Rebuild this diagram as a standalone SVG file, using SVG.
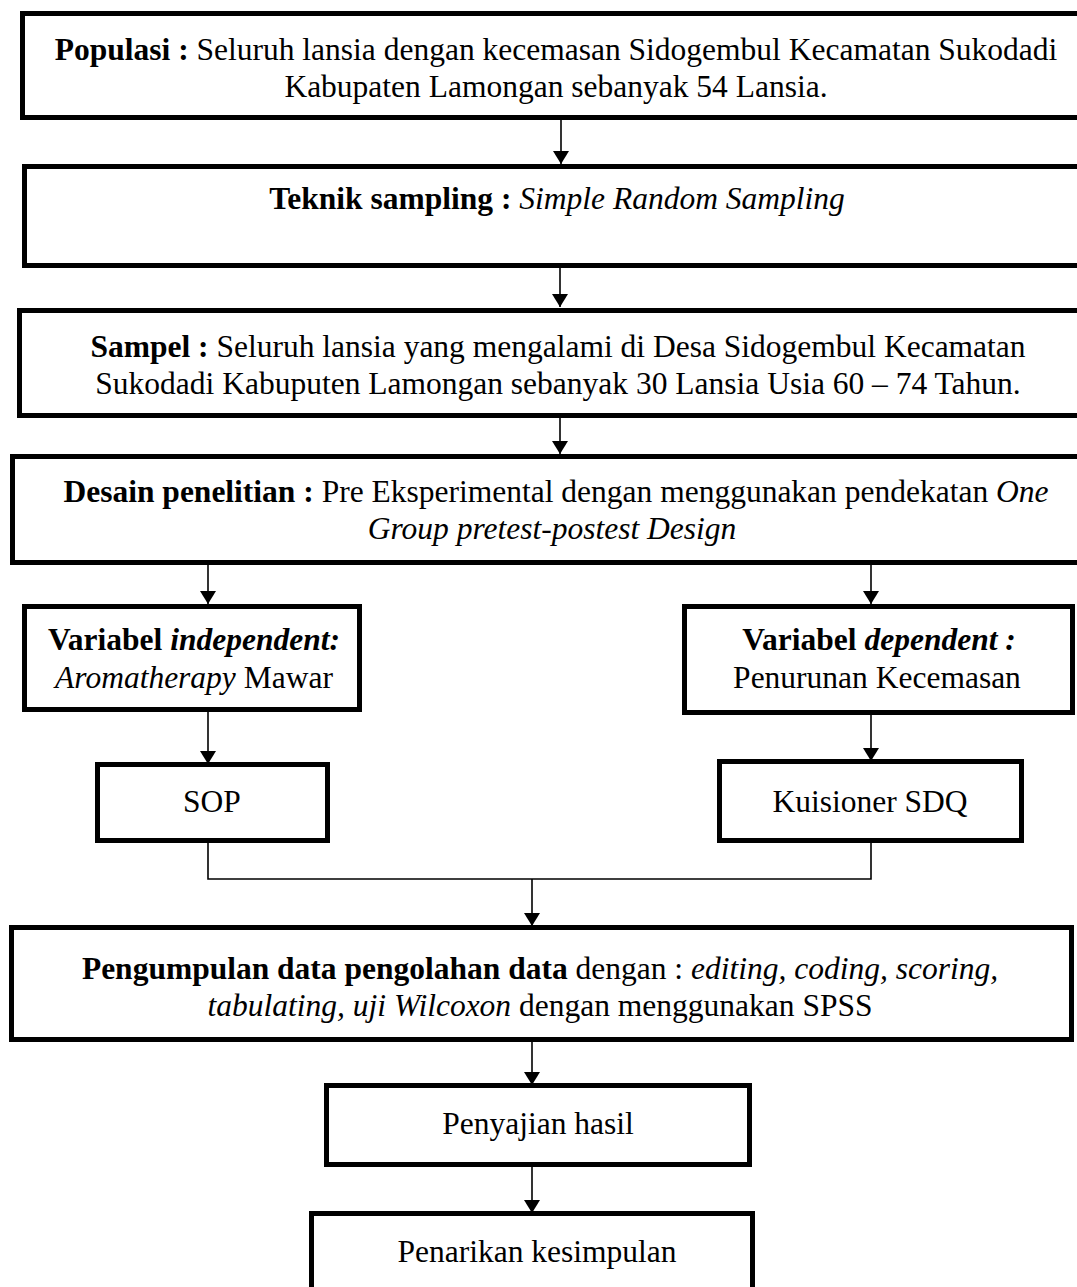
<svg xmlns="http://www.w3.org/2000/svg" width="1077" height="1287" viewBox="0 0 1077 1287">
<style>
.box{fill:#fff;stroke:#000;stroke-width:5}
.t{font-family:"Liberation Serif","Times New Roman",serif;font-size:31.5px;fill:#000;text-anchor:middle}
.b{font-weight:bold}
.i{font-style:italic}
.c{fill:none;stroke:#000;stroke-width:1.6}
.a{marker-end:url(#ah)}
</style>
<defs>
<marker id="ah" markerUnits="userSpaceOnUse" markerWidth="13" markerHeight="16" refX="13" refY="8" orient="auto" viewBox="0 0 13 16">
<path d="M0,0 L13,8 L0,16 Z" fill="#000"/>
</marker>
</defs>
<g id="connectors">
<line class="c a" x1="561" y1="120" x2="561" y2="164"/>
<line class="c a" x1="560" y1="268" x2="560" y2="307"/>
<line class="c a" x1="560" y1="418" x2="560" y2="454"/>
<line class="c a" x1="208" y1="565" x2="208" y2="604"/>
<line class="c a" x1="871" y1="565" x2="871" y2="604"/>
<line class="c a" x1="208" y1="712" x2="208" y2="764"/>
<line class="c a" x1="871" y1="715" x2="871" y2="761"/>
<polyline class="c" points="208,842 208,879 871,879 871,842"/>
<line class="c a" x1="532" y1="879" x2="532" y2="926"/>
<line class="c a" x1="532" y1="1042" x2="532" y2="1085"/>
<line class="c a" x1="532" y1="1167" x2="532" y2="1213"/>
</g>
<g id="populasi">
<rect class="box" x="22.5" y="13.5" width="1100" height="104"/>
<text class="t" x="556" y="60"><tspan class="b">Populasi :</tspan> Seluruh lansia dengan kecemasan Sidogembul Kecamatan Sukodadi</text>
<text class="t" x="556" y="97">Kabupaten Lamongan sebanyak 54 Lansia.</text>
</g>
<g id="teknik">
<rect class="box" x="24.5" y="166.5" width="1100" height="99"/>
<text class="t" x="557" y="209"><tspan class="b">Teknik sampling :</tspan> <tspan class="i">Simple Random Sampling</tspan></text>
</g>
<g id="sampel">
<rect class="box" x="19.5" y="310.5" width="1100" height="105"/>
<text class="t" x="558" y="357"><tspan class="b">Sampel :</tspan> Seluruh lansia yang mengalami di Desa Sidogembul Kecamatan</text>
<text class="t" x="558" y="394">Sukodadi Kabuputen Lamongan sebanyak 30 Lansia Usia 60 – 74 Tahun.</text>
</g>
<g id="desain">
<rect class="box" x="12.5" y="456.5" width="1100" height="106"/>
<text class="t" x="556" y="502"><tspan class="b">Desain penelitian :</tspan> Pre Eksperimental dengan menggunakan pendekatan <tspan class="i">One</tspan></text>
<text class="t" x="552" y="539"><tspan class="i">Group pretest-postest Design</tspan></text>
</g>
<g id="var-independent">
<rect class="box" x="24.5" y="606.5" width="335" height="103"/>
<text class="t" x="194" y="650"><tspan class="b">Variabel </tspan><tspan class="b i">independent:</tspan></text>
<text class="t" x="194" y="688"><tspan class="i">Aromatherapy</tspan> Mawar</text>
</g>
<g id="var-dependent">
<rect class="box" x="684.5" y="606.5" width="388" height="106"/>
<text class="t" x="879" y="650"><tspan class="b">Variabel </tspan><tspan class="b i">dependent :</tspan></text>
<text class="t" x="877" y="688">Penurunan Kecemasan</text>
</g>
<g id="sop">
<rect class="box" x="97.5" y="764.5" width="230" height="76"/>
<text class="t" x="212" y="812">SOP</text>
</g>
<g id="kuisioner">
<rect class="box" x="719.5" y="761.5" width="302" height="79"/>
<text class="t" x="870" y="812">Kuisioner SDQ</text>
</g>
<g id="pengumpulan">
<rect class="box" x="11.5" y="927.5" width="1060" height="112"/>
<text class="t" x="540" y="979"><tspan class="b">Pengumpulan data pengolahan data</tspan> dengan : <tspan class="i">editing, coding, scoring,</tspan></text>
<text class="t" x="540" y="1016"><tspan class="i">tabulating, uji Wilcoxon</tspan> dengan menggunakan SPSS</text>
</g>
<g id="penyajian">
<rect class="box" x="326.5" y="1085.5" width="423" height="79"/>
<text class="t" x="538" y="1134">Penyajian hasil</text>
</g>
<g id="penarikan">
<rect class="box" x="311.5" y="1213.5" width="441" height="100"/>
<text class="t" x="537" y="1262">Penarikan kesimpulan</text>
</g>
</svg>
